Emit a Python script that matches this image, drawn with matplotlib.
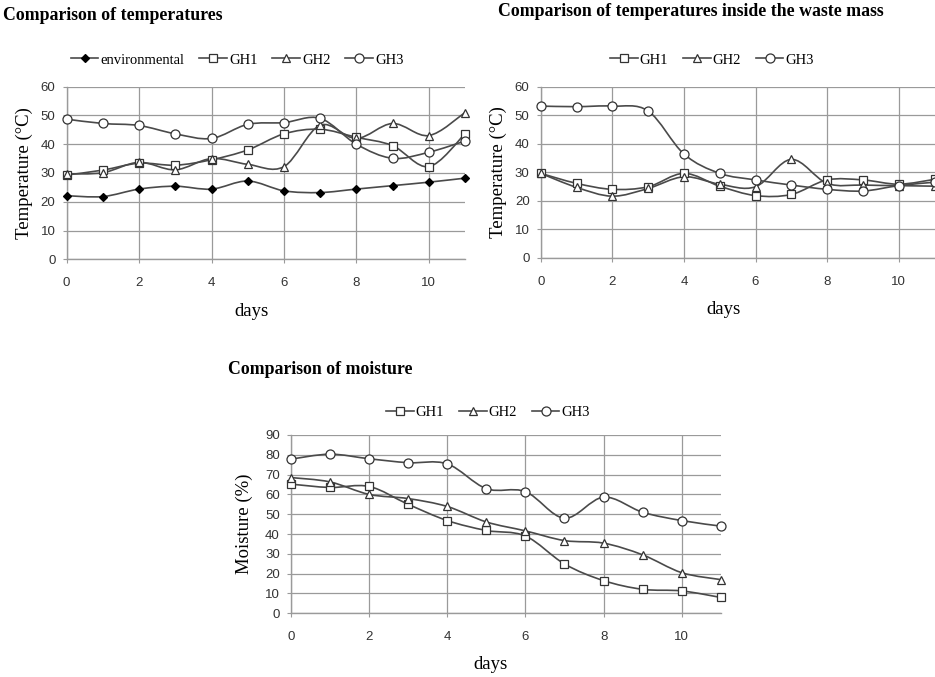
import matplotlib
matplotlib.use("Agg")
import matplotlib.pyplot as plt
from matplotlib.path import Path
from matplotlib.patches import PathPatch
from matplotlib.lines import Line2D

days = [0, 1, 2, 3, 4, 5, 6, 7, 8, 9, 10, 11]

# comparison of temperatures (°C)
temp_env = [22.1, 21.8, 24.4, 25.4, 24.4, 27.2, 23.8, 23.2, 24.4, 25.6, 26.8, 28.2]
temp_gh1 = [29.3, 31.0, 33.4, 32.7, 34.6, 38.0, 43.6, 45.2, 42.4, 39.5, 32.2, 43.6]
temp_gh2 = [29.7, 30.1, 33.7, 31.1, 35.0, 33.0, 32.2, 46.6, 42.0, 47.2, 43.0, 51.0]
temp_gh3 = [48.7, 47.2, 46.5, 43.6, 42.0, 46.9, 47.5, 49.0, 40.0, 35.1, 37.2, 41.1]

# temperatures inside the waste mass (°C)
mass_gh1 = [29.6, 26.1, 24.0, 24.9, 29.6, 25.1, 21.8, 22.2, 27.3, 27.3, 25.8, 27.5]
mass_gh2 = [29.6, 24.7, 21.6, 24.3, 28.4, 25.8, 24.9, 34.5, 26.1, 25.5, 25.3, 25.1]
mass_gh3 = [53.2, 53.0, 53.2, 51.5, 36.4, 29.6, 27.3, 25.5, 24.0, 23.4, 25.3, 26.5]

# moisture (%)
moist_gh1 = [65.2, 63.5, 64.0, 55.0, 46.8, 41.8, 39.0, 24.9, 16.5, 12.1, 11.3, 8.0]
moist_gh2 = [68.5, 66.3, 60.0, 57.9, 53.9, 46.1, 41.6, 36.7, 35.4, 29.5, 20.5, 17.0]
moist_gh3 = [77.8, 80.3, 78.0, 76.0, 75.4, 62.9, 61.4, 48.0, 58.6, 51.0, 46.8, 44.0]

LINE = "#4a4a4a"
GRID = "#9a9a9a"
SERIF = "Liberation Serif"
SANS = "Liberation Sans"

MARKERS = {
    "environmental": dict(marker="D", markersize=4.5, markerfacecolor="black", markeredgecolor="black"),
    "GH1": dict(marker="s", markersize=6, markerfacecolor="white", markeredgecolor="#333333"),
    "GH2": dict(marker="^", markersize=6, markerfacecolor="white", markeredgecolor="#333333"),
    "GH3": dict(marker="o", markersize=6.5, markerfacecolor="white", markeredgecolor="#333333"),
}


def smooth_path(x, y):
    # excel-like smoothed line, bezier segments through the data points
    n = len(x)
    verts = [(x[0], y[0])]
    codes = [Path.MOVETO]
    for i in range(n - 1):
        xp, yp = (x[i - 1], y[i - 1]) if i > 0 else (x[i], y[i])
        xn, yn = (x[i + 2], y[i + 2]) if i + 2 < n else (x[i + 1], y[i + 1])
        c1 = (x[i] + (x[i + 1] - xp) / 6, y[i] + (y[i + 1] - yp) / 6)
        c2 = (x[i + 1] - (xn - x[i]) / 6, y[i + 1] - (yn - y[i]) / 6)
        verts += [c1, c2, (x[i + 1], y[i + 1])]
        codes += [Path.CURVE4] * 3
    return Path(verts, codes)


def draw_series(ax, vals, name):
    ax.add_patch(PathPatch(smooth_path(days, vals), facecolor="none",
                           edgecolor=LINE, linewidth=1.2, zorder=3))
    ax.plot(days, vals, linestyle="none", zorder=4, clip_on=False,
            markeredgewidth=0.9, **MARKERS[name])


def setup_ax(ax, ymax, ylabel, label_x, days_y):
    ax.set_xlim(0, 11)
    ax.set_ylim(0, ymax)
    ax.set_xticks(range(0, 11, 2))
    ax.set_yticks(range(0, ymax + 1, 10))
    ax.grid(True, color=GRID, linewidth=0.9)
    ax.set_axisbelow(True)
    for s in ("top", "right"):
        ax.spines[s].set_visible(False)
    for s in ("left", "bottom"):
        ax.spines[s].set_color(GRID)
        ax.spines[s].set_linewidth(1.0)
    ax.tick_params(length=3, color=GRID, labelsize=9.5, labelcolor="#333333")
    ax.tick_params(axis="x", pad=10)
    ax.tick_params(axis="y", pad=5)
    for t in ax.get_xticklabels() + ax.get_yticklabels():
        t.set_fontfamily(SANS)
    ax.set_ylabel(ylabel, fontfamily=SERIF, fontsize=13.5)
    ax.yaxis.set_label_coords(label_x, 0.5)
    ax.set_xlabel("days", fontfamily=SERIF, fontsize=13.5)
    ax.xaxis.set_label_coords(0.465, days_y)


def add_legend(fig, names, x, y):
    handles = [Line2D([], [], color=LINE, linewidth=1.2, markeredgewidth=0.9, **MARKERS[n])
               for n in names]
    fig.legend(handles, names, loc="center", bbox_to_anchor=(x, y), ncol=len(names),
               frameon=False, handlelength=1.9, handletextpad=0.15, columnspacing=1.0,
               prop={"family": SERIF, "size": 10.5})


fig = plt.figure(figsize=(9.35, 6.77), dpi=100)

ax1 = fig.add_axes([0.0713, 0.617, 0.426, 0.255])
for vals, name in [(temp_env, "environmental"), (temp_gh1, "GH1"),
                   (temp_gh2, "GH2"), (temp_gh3, "GH3")]:
    draw_series(ax1, vals, name)
setup_ax(ax1, 60, "Temperature (°C)", -0.085, -0.255)

ax2 = fig.add_axes([0.5783, 0.6193, 0.4212, 0.2526])
for vals, name in [(mass_gh1, "GH1"), (mass_gh2, "GH2"), (mass_gh3, "GH3")]:
    draw_series(ax2, vals, name)
setup_ax(ax2, 60, "Temperature (°C)", -0.085, -0.255)

ax3 = fig.add_axes([0.3112, 0.0941, 0.4597, 0.2634])
for vals, name in [(moist_gh1, "GH1"), (moist_gh2, "GH2"), (moist_gh3, "GH3")]:
    draw_series(ax3, vals, name)
setup_ax(ax3, 90, "Moisture (%)", -0.088, -0.242)

add_legend(fig, ["environmental", "GH1", "GH2", "GH3"], 0.2535, 1 - 60 / 677)
add_legend(fig, ["GH1", "GH2", "GH3"], 0.7615, 1 - 60 / 677)
add_legend(fig, ["GH1", "GH2", "GH3"], 0.522, 1 - 412 / 677)

fig.text(0.003, 1 - 15 / 677, "Comparison of temperatures", fontfamily=SERIF,
         fontweight="bold", fontsize=12.8, ha="left", va="center")
fig.text(691 / 935, 1 - 11 / 677, "Comparison of temperatures inside the waste mass",
         fontfamily=SERIF, fontweight="bold", fontsize=12.8, ha="center", va="center")
fig.text(228 / 935, 1 - 370 / 677, "Comparison of moisture", fontfamily=SERIF,
         fontweight="bold", fontsize=12.8, ha="left", va="center")

fig.savefig("out.png", dpi=100, facecolor="white")
